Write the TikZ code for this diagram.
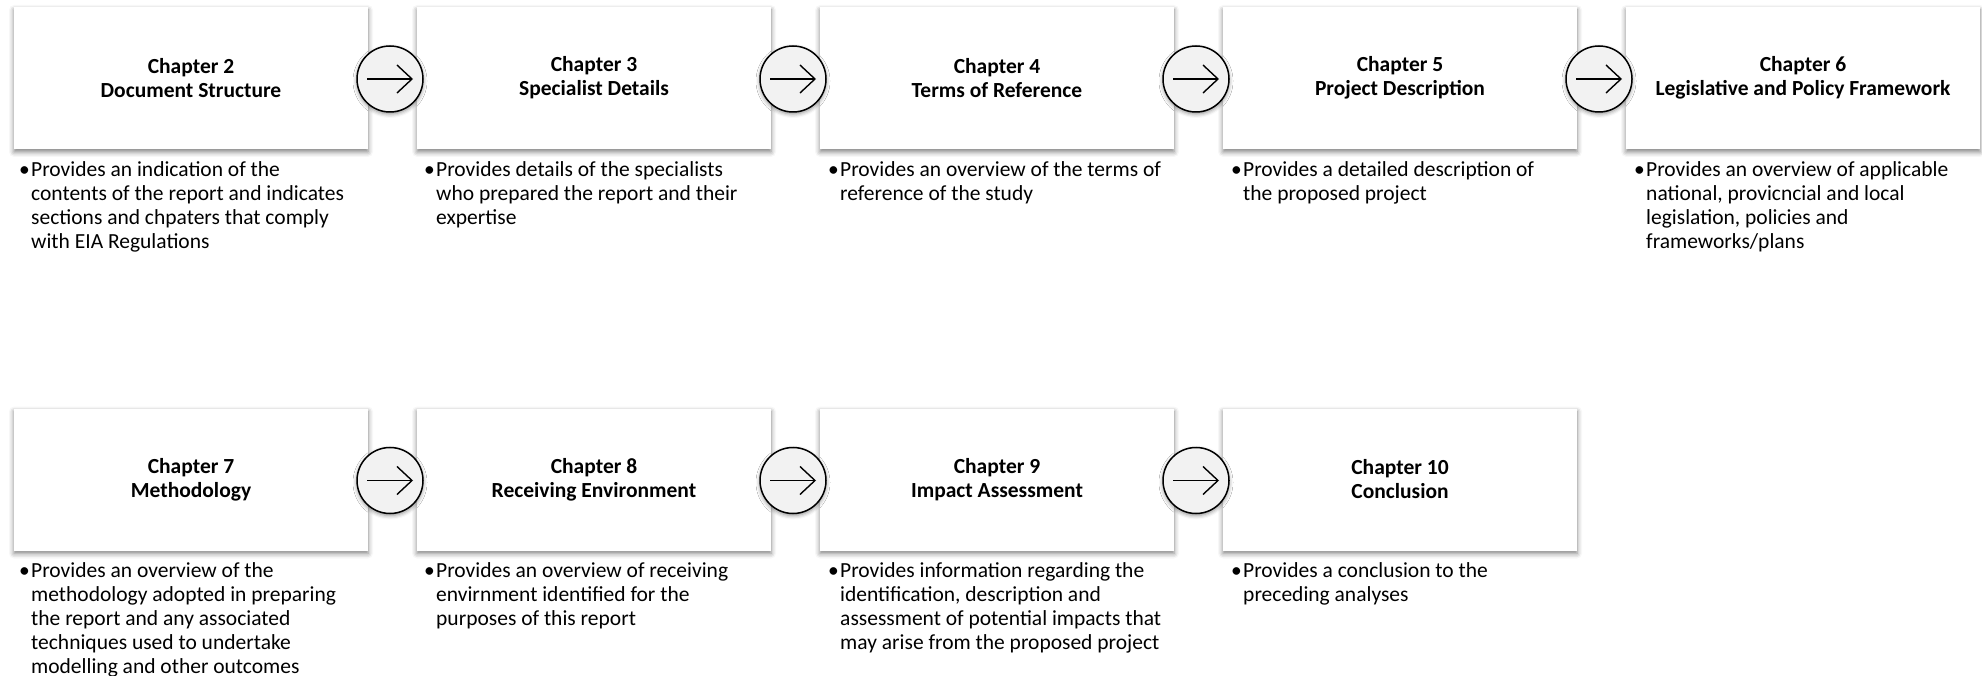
\documentclass[tikz,border=0pt]{standalone}
\usepackage{fontspec}
\setmainfont{Carlito}
\usetikzlibrary{shadows.blur,arrows.meta}
\definecolor{circfill}{HTML}{F2F2F2}
\tikzset{
  chapbox/.style={minimum width=354pt, minimum height=142pt, inner sep=0pt, fill=white,
    blur shadow={shadow xshift=0pt, shadow yshift=-3pt, shadow blur radius=5pt, shadow opacity=50},
    font=\fontsize{21.5}{24}\selectfont\bfseries, align=center},
  nextcirc/.style={circle, minimum size=66pt, inner sep=0pt, fill=circfill, draw=black, line width=1.5pt,
    blur shadow={shadow xshift=0pt, shadow yshift=-2pt, shadow blur radius=4pt, shadow opacity=45}},
  nextarrow/.style={line width=1.4pt, -{Straight Barb[length=15pt,width=28pt,line width=1.4pt]}},
  desc/.style={anchor=base west, inner sep=0pt, font=\fontsize{21.5}{24}\selectfont, align=left}
}
\newcommand{\bul}[1]{\makebox[12pt][l]{\textbullet}\begin{tabular}[t]{@{}l@{}}#1\end{tabular}}
\begin{document}
\begin{tikzpicture}[x=1pt,y=-1pt]
\useasboundingbox (0,0) rectangle (1982,676);
% row 1 boxes
\node[chapbox] (c2) at (191,78) {Chapter 2\\Document Structure};
\node[chapbox] (c3) at (594,78) {Chapter 3\\Specialist Details};
\node[chapbox] (c4) at (997,78) {Chapter 4\\Terms of Reference};
\node[chapbox] (c5) at (1400,78) {Chapter 5\\Project Description};
\node[chapbox] (c6) at (1803,78) {Chapter 6\\Legislative and Policy Framework};
% row 2 boxes
\node[chapbox] (c7) at (191,479.5) {Chapter 7\\Methodology};
\node[chapbox] (c8) at (594,479.5) {Chapter 8\\Receiving Environment};
\node[chapbox] (c9) at (997,479.5) {Chapter 9\\Impact Assessment};
\node[chapbox] (c10) at (1400,479.5) {Chapter 10\\Conclusion};
% circles
\node[nextcirc] (a1) at (390,79) {};
\node[nextcirc] (a2) at (793,79) {};
\node[nextcirc] (a3) at (1196,79) {};
\node[nextcirc] (a4) at (1599,79) {};
\node[nextcirc] (a5) at (390,480.5) {};
\node[nextcirc] (a6) at (793,480.5) {};
\node[nextcirc] (a7) at (1196,480.5) {};
\foreach \a in {a1,a2,a3,a4,a5,a6,a7}{
  \draw[nextarrow] ([xshift=-23pt]\a.center) -- ([xshift=23pt]\a.center);
}
% descriptions row 1
\node[desc] (d2) at (19,177) {\bul{Provides an indication of the\\contents of the report and indicates\\sections and chpaters that comply\\with EIA Regulations}};
\node[desc] (d3) at (424,177) {\bul{Provides details of the specialists\\who prepared the report and their\\expertise}};
\node[desc] (d4) at (828,177) {\bul{Provides an overview of the terms of\\reference of the study}};
\node[desc] (d5) at (1231,177) {\bul{Provides a detailed description of\\the proposed project}};
\node[desc] (d6) at (1634,177) {\bul{Provides an overview of applicable\\national, provicncial and local\\legislation, policies and\\frameworks/plans}};
% descriptions row 2
\node[desc] (d7) at (19,577) {\bul{Provides an overview of the\\methodology adopted in preparing\\the report and any associated\\techniques used to undertake\\modelling and other outcomes}};
\node[desc] (d8) at (424,577) {\bul{Provides an overview of receiving\\envirnment identified for the\\purposes of this report}};
\node[desc] (d9) at (828,577) {\bul{Provides information regarding the\\identification, description and\\assessment of potential impacts that\\may arise from the proposed project}};
\node[desc] (d10) at (1231,577) {\bul{Provides a conclusion to the\\preceding analyses}};
\end{tikzpicture}
\end{document}
